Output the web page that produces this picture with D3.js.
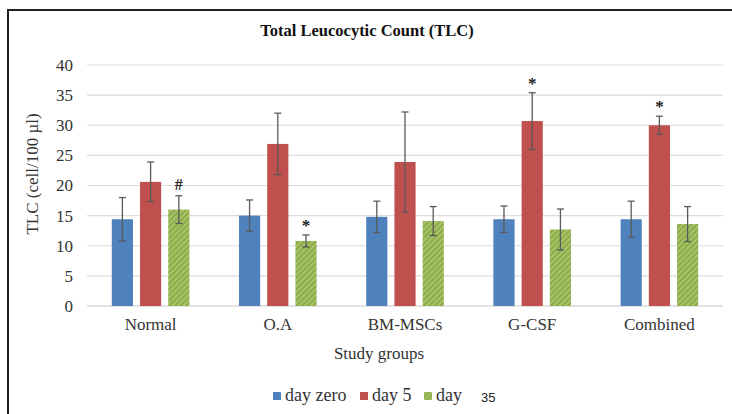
<!DOCTYPE html>
<html>
<head>
<meta charset="utf-8">
<script src="https://cdn.jsdelivr.net/npm/d3@7"></script>
<style>
  body { margin: 0; background: #fff; }
  svg { display: block; font-family: "Liberation Serif", "Times New Roman", serif; }
</style>
</head>
<body>
<div id="chart"></div>
<script>
var groups = ["Normal", "O.A", "BM-MSCs", "G-CSF", "Combined"];
var seriesNames = ["day zero", "day 5", "day"];
var dayZero = [14.4, 15.0, 14.8, 14.4, 14.4];
var dayFive = [20.6, 26.9, 23.9, 30.7, 30.0];
var day35 = [16.0, 10.8, 14.1, 12.7, 13.6];
var errZero = [3.6, 2.6, 2.6, 2.2, 3.0];
var errFive = [3.3, 5.1, 8.3, 4.7, 1.5];
var err35 = [2.3, 1.0, 2.4, 3.4, 2.9];
var marks35 = ["#", "*", "", "", ""];
var marksFive = ["", "", "", "*", "*"];
var yTicks = [0, 5, 10, 15, 20, 25, 30, 35, 40];

var width = 732, height = 414;
var margin = {left: 87, right: 9, top: 65, bottom: 108};
var colors = ["#4f81bd", "#c0504d", "#9bbb59"];
var textCol = "#333";

var svg = d3.select("#chart").append("svg")
    .attr("width", width)
    .attr("height", height);

// hatched fill for the third series
var pat = svg.append("defs").append("pattern")
    .attr("id", "hatch")
    .attr("patternUnits", "userSpaceOnUse")
    .attr("width", 4).attr("height", 4)
    .attr("patternTransform", "rotate(45)");
pat.append("rect").attr("width", 4).attr("height", 4).attr("fill", "#a6c466");
pat.append("rect").attr("width", 1.6).attr("height", 4).attr("fill", "#86a546");

// frame
svg.append("line").attr("x1", 7).attr("x2", width).attr("y1", 10).attr("y2", 10)
    .attr("stroke", "#222").attr("stroke-width", 2);
svg.append("line").attr("x1", 8).attr("x2", 8).attr("y1", 10).attr("y2", height)
    .attr("stroke", "#222").attr("stroke-width", 2);

var x0 = d3.scaleBand().domain(groups)
    .range([margin.left, width - margin.right]).paddingInner(0.39).paddingOuter(0.195);
var x1 = d3.scaleBand().domain(seriesNames)
    .range([0, x0.bandwidth()]).paddingInner(0.25);
var y = d3.scaleLinear().domain([0, 40]).range([height - margin.bottom, margin.top]);

// gridlines
svg.append("g").selectAll("line").data(yTicks).enter().append("line")
    .attr("x1", margin.left).attr("x2", width - margin.right)
    .attr("y1", function(d){ return y(d); }).attr("y2", function(d){ return y(d); })
    .attr("stroke", function(d){ return d === 0 ? "#c8c8c8" : "#dcdcdc"; })
    .attr("stroke-width", 1.2);

// y axis labels
var yAxis = d3.axisLeft(y).tickValues(yTicks).tickSize(0).tickPadding(0);
var ya = svg.append("g").attr("transform", "translate(73,0)").call(yAxis);
ya.select(".domain").remove();
ya.selectAll("text").attr("font-family", "Liberation Serif, serif").attr("font-size", 17).attr("fill", textCol);

// x axis labels
var xAxis = d3.axisBottom(x0).tickSize(0).tickPadding(12);
var xa = svg.append("g").attr("transform", "translate(0," + y(0) + ")").call(xAxis);
xa.select(".domain").remove();
xa.selectAll("text").attr("font-family", "Liberation Serif, serif").attr("font-size", 17).attr("fill", textCol);

var data = groups.map(function(g, i) {
  return [
    {group: g, s: seriesNames[0], v: dayZero[i], e: errZero[i], m: "", c: colors[0]},
    {group: g, s: seriesNames[1], v: dayFive[i], e: errFive[i], m: marksFive[i], c: colors[1]},
    {group: g, s: seriesNames[2], v: day35[i], e: err35[i], m: marks35[i], c: "url(#hatch)"}
  ];
});

var gg = svg.append("g").selectAll("g").data(data).enter().append("g")
    .attr("transform", function(d){ return "translate(" + x0(d[0].group) + ",0)"; });

var bars = gg.selectAll("g").data(function(d){ return d; }).enter().append("g");

bars.append("rect")
    .attr("x", function(d){ return x1(d.s); })
    .attr("y", function(d){ return y(d.v); })
    .attr("width", x1.bandwidth())
    .attr("height", function(d){ return y(0) - y(d.v); })
    .attr("fill", function(d){ return d.c; });

// error bars
var cx = function(d){ return x1(d.s) + x1.bandwidth() / 2; };
bars.append("line")
    .attr("x1", cx).attr("x2", cx)
    .attr("y1", function(d){ return y(d.v + d.e); })
    .attr("y2", function(d){ return y(d.v - d.e); })
    .attr("stroke", "#595959").attr("stroke-width", 1.3);
bars.selectAll(".cap").data(function(d){ return [[d, d.v + d.e], [d, d.v - d.e]]; })
  .enter().append("line")
    .attr("x1", function(p){ return cx(p[0]) - 3.5; })
    .attr("x2", function(p){ return cx(p[0]) + 3.5; })
    .attr("y1", function(p){ return y(p[1]); })
    .attr("y2", function(p){ return y(p[1]); })
    .attr("stroke", "#595959").attr("stroke-width", 1.3);

// significance marks
bars.filter(function(d){ return d.m !== ""; }).append("text")
    .attr("x", cx)
    .attr("y", function(d){ return y(d.v + d.e) - (d.m === "#" ? 6 : 4); })
    .attr("text-anchor", "middle")
    .attr("font-size", function(d){ return d.m === "#" ? 16 : 17; })
    .attr("font-weight", "bold")
    .attr("fill", "#222")
    .text(function(d){ return d.m; });

// title
svg.append("text").attr("x", 367).attr("y", 36).attr("text-anchor", "middle")
    .attr("font-size", 16.5).attr("font-weight", "bold").attr("fill", "#111")
    .text("Total Leucocytic Count (TLC)");

// axis titles
svg.append("text").attr("x", 379).attr("y", 359).attr("text-anchor", "middle")
    .attr("font-size", 17).attr("fill", textCol).text("Study groups");
svg.append("text").attr("transform", "translate(38,174) rotate(-90)")
    .attr("text-anchor", "middle").attr("font-size", 17).attr("fill", textCol)
    .text("TLC (cell/100 µl)");

// legend
var legX = [273, 360, 424];
var leg = svg.append("g").selectAll("g").data(seriesNames).enter().append("g")
    .attr("transform", function(d, i){ return "translate(" + legX[i] + ",396)"; });
leg.append("rect").attr("x", 0).attr("y", -4).attr("width", 8).attr("height", 8)
    .attr("fill", function(d, i){ return i === 2 ? "url(#hatch)" : colors[i]; });
leg.append("text").attr("x", 12).attr("y", 5).attr("font-size", 18).attr("fill", textCol)
    .text(function(d){ return d; });
svg.append("text").attr("x", 481).attr("y", 402).attr("font-family", "Liberation Sans, Arial, sans-serif")
    .attr("font-size", 13).attr("fill", "#222").text("35");
</script>
</body>
</html>
